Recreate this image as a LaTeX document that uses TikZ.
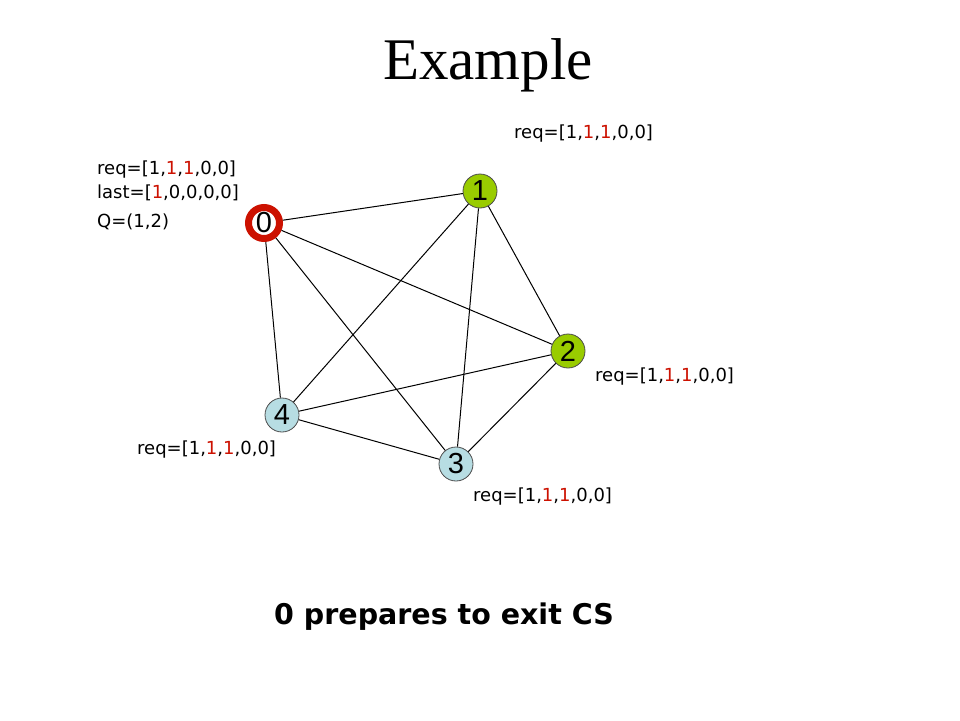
\documentclass[tikz,border=0pt]{standalone}
\usepackage{fontspec}
\setmainfont{Liberation Serif}
\newfontfamily\lblfont{DejaVu Sans}
\newfontfamily\numfont{Liberation Sans}
\definecolor{lime}{RGB}{153,204,0}
\definecolor{paleblue}{RGB}{183,221,227}
\definecolor{ringred}{RGB}{204,17,0}
\definecolor{txtred}{RGB}{204,17,0}
\begin{document}
\begin{tikzpicture}[x=1pt,y=-1pt,
  vtx/.style={circle,draw=black!70,line width=0.8pt,minimum size=34pt,inner sep=0pt,font=\numfont\fontsize{29}{29}\selectfont},
  lbl/.style={font=\lblfont\fontsize{18}{22}\selectfont,anchor=west,inner sep=0pt,align=left},
  edge/.style={draw=black,line width=1pt}]
\useasboundingbox (0,0) rectangle (960,720);
\fill[white] (0,0) rectangle (960,720);
\node[font=\fontsize{59}{59}\selectfont] (title) at (488,65) {Example};
\node[vtx,fill=white,draw=ringred,line width=7pt,minimum size=31pt] (n0) at (264,223) {0};
\node[vtx,fill=lime] (n1) at (480,191) {1};
\node[vtx,fill=lime] (n2) at (568,351) {2};
\node[vtx,fill=paleblue] (n3) at (456,464) {3};
\node[vtx,fill=paleblue] (n4) at (282,415) {4};
\foreach \a/\b in {n0/n1,n0/n2,n0/n3,n0/n4,n1/n2,n1/n3,n1/n4,n2/n3,n2/n4,n3/n4}
  \draw[edge] (\a) -- (\b);
\node[lbl] (l1) at (514,134) {req=[1,\textcolor{txtred}{1},\textcolor{txtred}{1},0,0]};
\node[lbl] (l0a) at (97,170) {req=[1,\textcolor{txtred}{1},\textcolor{txtred}{1},0,0]};
\node[lbl] (l0b) at (97,193) {last=[\textcolor{txtred}{1},0,0,0,0]};
\node[lbl] (l0c) at (97,222) {Q=(1,2)};
\node[lbl] (l2) at (595,377) {req=[1,\textcolor{txtred}{1},\textcolor{txtred}{1},0,0]};
\node[lbl] (l4) at (137,450) {req=[1,\textcolor{txtred}{1},\textcolor{txtred}{1},0,0]};
\node[lbl] (l3) at (473,497) {req=[1,\textcolor{txtred}{1},\textcolor{txtred}{1},0,0]};
\node[font=\lblfont\bfseries\fontsize{28.5}{30}\selectfont] (cap) at (444,617) {0 prepares to exit CS};
\end{tikzpicture}
\end{document}
